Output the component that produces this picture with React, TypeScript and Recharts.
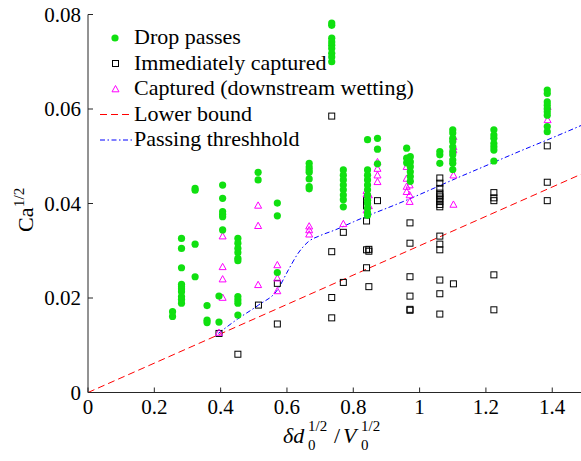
import { ComposedChart, Scatter, Line, XAxis, YAxis } from 'recharts';

const SERIF = '"Liberation Serif"';

const xTicks = [0, 0.2, 0.4, 0.6, 0.8, 1, 1.2, 1.4];
const yTicks = [0, 0.02, 0.04, 0.06, 0.08];

// columns of points: [x, [y values]]
const passes: [number, number[]][] = [
  [0.255, [0.0171, 0.0161]],
  [0.282, [0.0326, 0.0305, 0.0264, 0.0229, 0.0224, 0.0219, 0.0213, 0.0203, 0.0197, 0.0189]],
  [0.323, [0.0432, 0.0428, 0.0314, 0.0245]],
  [0.359, [0.0184, 0.0153, 0.0148]],
  [0.395, [0.0204, 0.0149]],
  [0.406, [0.0439, 0.0411, 0.0383, 0.0377, 0.0372, 0.0344]],
  [0.452, [0.0326, 0.0316, 0.0305, 0.0296, 0.0284, 0.0279, 0.0203, 0.0196, 0.0189, 0.0164]],
  [0.513, [0.0466, 0.045]],
  [0.571, [0.0401, 0.0374, 0.0254]],
  [0.667, [0.0485, 0.0477, 0.0471, 0.0466, 0.0452, 0.0436, 0.0431]],
  [0.735, [0.0782, 0.0777, 0.075, 0.0742, 0.0735, 0.0728, 0.0718, 0.071, 0.07]],
  [0.77, [0.0471, 0.046, 0.045, 0.0439, 0.0429, 0.0418, 0.0408, 0.0393]],
  [0.843, [0.0535, 0.0471, 0.046, 0.045, 0.0439, 0.0429, 0.0418, 0.0407, 0.04, 0.039, 0.038, 0.0375]],
  [0.873, [0.0538, 0.0515, 0.0484]],
  [0.961, [0.0517, 0.0496, 0.0486]],
  [0.972, [0.0499, 0.0488, 0.0478, 0.0467, 0.0457, 0.0447]],
  [1.061, [0.051, 0.0503, 0.0485]],
  [1.1, [0.0556, 0.0549, 0.0538, 0.0531, 0.052, 0.051, 0.0503, 0.0492, 0.0485, 0.0472]],
  [1.224, [0.0556, 0.0545, 0.0538, 0.0527, 0.052, 0.0513, 0.049]],
  [1.385, [0.064, 0.0633, 0.0615, 0.0608, 0.0601, 0.0594, 0.0587, 0.0563, 0.0552]],
];

const captured: [number, number[]][] = [
  [0.395, [0.0125]],
  [0.452, [0.0081]],
  [0.514, [0.0185]],
  [0.571, [0.0231, 0.0145]],
  [0.735, [0.0585, 0.0298, 0.0201, 0.0158]],
  [0.77, [0.0339, 0.0233]],
  [0.84, [0.0407, 0.0395, 0.0363, 0.0302, 0.0264]],
  [0.847, [0.0303, 0.0299, 0.0224]],
  [0.873, [0.0406]],
  [0.971, [0.0359, 0.0316, 0.0245, 0.0204, 0.0176, 0.0174]],
  [1.061, [0.0454, 0.0443, 0.0432, 0.0422, 0.0418, 0.0414, 0.0409, 0.0404, 0.0398, 0.0393, 0.0331, 0.0314, 0.0302, 0.0238, 0.0209, 0.0166]],
  [1.102, [0.023]],
  [1.224, [0.0423, 0.0412, 0.0406, 0.0249, 0.0175]],
  [1.385, [0.0522, 0.0445, 0.0406]],
];

const wetting: [number, number[]][] = [
  [0.395, [0.0127]],
  [0.406, [0.0331, 0.0266, 0.024, 0.0201]],
  [0.513, [0.0396, 0.0353, 0.0228]],
  [0.571, [0.027, 0.0242, 0.0215]],
  [0.667, [0.0352, 0.0344, 0.0335]],
  [0.77, [0.0357]],
  [0.84, [0.0427, 0.042, 0.0386]],
  [0.847, [0.0418, 0.0395]],
  [0.873, [0.0488, 0.0474, 0.046, 0.0446]],
  [0.961, [0.0478, 0.0453, 0.0436, 0.0425]],
  [0.97, [0.0439, 0.0418, 0.0404]],
  [1.102, [0.0541, 0.052, 0.0513, 0.046, 0.0398]],
  [1.386, [0.0605, 0.0577]],
];

const lowerX = [0, 1.5];
const lowerY = [0, 0.0466];

const thresholdX = [0.393, 0.45, 0.514, 0.571, 0.604, 0.634, 0.664, 0.7, 0.745, 0.8, 0.85, 0.89, 0.95, 1.0, 1.1, 1.2, 1.3, 1.4, 1.5];
const thresholdY = [0.0125, 0.0155, 0.0185, 0.0217, 0.0259, 0.0295, 0.0319, 0.0332, 0.0344, 0.0361, 0.0376, 0.0387, 0.0404, 0.0419, 0.045, 0.048, 0.051, 0.0539, 0.0569];

const legendLabels = ['Drop passes', 'Immediately captured', 'Captured (downstream wetting)', 'Lower bound', 'Passing threshhold'];

const flatten = (cols: [number, number[]][]) =>
  cols.flatMap(([x, ys]) => ys.map((y) => ({ x, y })));
const zip = (xs: number[], ys: number[]) => xs.map((x, i) => ({ x, y: ys[i] }));

const GREEN = '#10e010';
const MAGENTA = '#ff00ff';
const font = (size: number, italic = false) =>
  italic ? { fontFamily: SERIF, fontSize: size, fontStyle: 'italic' } : { fontFamily: SERIF, fontSize: size };

const Dot = (p: any) => <circle cx={p.cx} cy={p.cy} r={3.6} fill={GREEN} />;
const Square = (p: any) => (
  <rect x={p.cx - 3} y={p.cy - 3} width={6} height={6} fill="none" stroke="#000" strokeWidth={1} />
);
const Tri = (p: any) => (
  <path d={`M${p.cx - 3.5},${p.cy + 2.8}L${p.cx + 3.5},${p.cy + 2.8}L${p.cx},${p.cy - 3.5}Z`} fill="none" stroke={MAGENTA} strokeWidth={1} />
);

const XTick = ({ x, y, payload }: any) => (
  <text x={x} y={y} dy="0.71em" textAnchor="middle" fill="#000" style={font(21)}>{payload.value}</text>
);
const YTick = ({ x, y, payload }: any) => (
  <text x={x} y={y} dy="0.355em" textAnchor="end" fill="#000" style={font(21)}>{payload.value}</text>
);

// legend and axis titles sit on a plain svg layered above the chart
function Overlay() {
  const rows = [38, 63.5, 89, 114.5, 140];
  return (
    <svg width={581} height={461} style={{ position: 'absolute', left: 0, top: 0, pointerEvents: 'none' }}>
      <Dot cx={115} cy={rows[0]} />
      <Square cx={115.5} cy={rows[1]} />
      <Tri cx={115.5} cy={rows[2]} />
      <line x1={100} x2={132} y1={rows[3]} y2={rows[3]} stroke="#ff0000" strokeDasharray="7 4" />
      <line x1={100} x2={132} y1={rows[4]} y2={rows[4]} stroke="#0000ff" strokeDasharray="5 2.5 1.5 2.5" />
      {legendLabels.map((t, i) => (
        <text key={t} x={134} y={rows[i] + 6} style={font(22)} fill="#000">{t}</text>
      ))}
      <g fill="#000">
        <text x={283} y={443} style={font(22, true)}>δd</text>
        <text x={308} y={431} style={font(15)}>1/2</text>
        <text x={308} y={450} style={font(15)}>0</text>
        <text x={334} y={443} style={font(22)}>/</text>
        <text x={343} y={443} style={font(22, true)}>V</text>
        <text x={361} y={431} style={font(15)}>1/2</text>
        <text x={361} y={450} style={font(15)}>0</text>
      </g>
      <g fill="#000" transform="translate(33,232) rotate(-90)">
        <text x={0} y={0} style={font(22)}>Ca</text>
        <text x={25} y={-9} style={font(15)}>1/2</text>
      </g>
    </svg>
  );
}

export default function App() {
  return (
    <div style={{ position: 'absolute', left: 0, top: 0, width: 581, height: 461, overflow: 'hidden', background: '#fff', fontFamily: SERIF }}>
      <ComposedChart width={600} height={461} margin={{ top: 14.5, right: 14.6, bottom: 8.5, left: 8 }}>
        <XAxis
          xAxisId={0}
          type="number"
          dataKey="x"
          domain={[0, 1.5]}
          ticks={xTicks}
          height={60}
          tickSize={-5}
          tickMargin={12}
          tick={XTick}
          stroke="#262626"
        />
        <XAxis
          xAxisId="t"
          orientation="top"
          type="number"
          dataKey="x"
          domain={[0, 1.5]}
          ticks={xTicks}
          height={0}
          tickSize={-5}
          tick={false}
          stroke="#262626"
        />
        <YAxis
          yAxisId={0}
          type="number"
          dataKey="y"
          domain={[0, 0.08]}
          ticks={yTicks}
          width={80}
          tickSize={-5}
          tickMargin={12}
          tick={YTick}
          stroke="#262626"
        />
        <YAxis
          yAxisId="r"
          orientation="right"
          type="number"
          dataKey="y"
          domain={[0, 0.08]}
          ticks={yTicks}
          width={0}
          tickSize={-5}
          tick={false}
          stroke="#262626"
        />
        <Scatter name="Immediately captured" data={flatten(captured)} shape={Square} isAnimationActive={false} />
        <Scatter name="Captured (downstream wetting)" data={flatten(wetting)} shape={Tri} isAnimationActive={false} />
        <Scatter name="Drop passes" data={flatten(passes)} shape={Dot} isAnimationActive={false} />
        <Line
          name="Lower bound"
          data={zip(lowerX, lowerY)}
          dataKey="y"
          type="linear"
          stroke="#ff0000"
          strokeWidth={1}
          strokeDasharray="7 4"
          dot={false}
          activeDot={false}
          isAnimationActive={false}
        />
        <Line
          name="Passing threshhold"
          data={zip(thresholdX, thresholdY)}
          dataKey="y"
          type="monotone"
          stroke="#0000ff"
          strokeWidth={1}
          strokeDasharray="5 2.5 1.5 2.5"
          dot={false}
          activeDot={false}
          isAnimationActive={false}
        />
      </ComposedChart>
      <Overlay />
    </div>
  );
}
